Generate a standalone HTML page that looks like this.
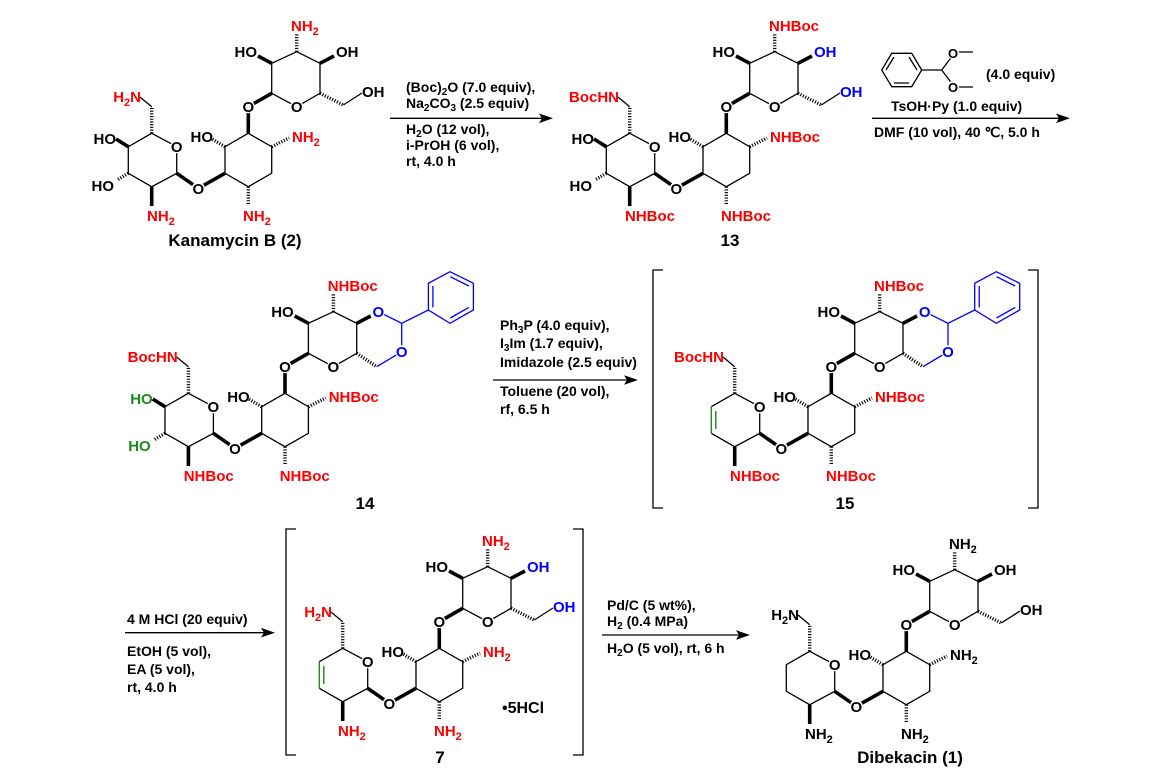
<!DOCTYPE html>
<html><head><meta charset="utf-8"><style>
html,body{margin:0;padding:0;background:#fff;}
svg{display:block;}
text{font-family:"Liberation Sans",Arial,sans-serif;font-weight:bold;font-size:15px;fill:#000;stroke:none;}
text.a{font-size:14px;}
text.cap{font-size:17px;}
.r{fill:#f00;} .bl{fill:#00f;} .g{fill:#1a8a1a;}
.s{font-size:11px;}
.k{fill:none;stroke:#000;stroke-width:1.3;}
.w{fill:none;stroke:#000;stroke-width:3.6;}
.h{fill:none;stroke:#000;stroke-width:3.4;stroke-dasharray:1.1 1.6;}
.bb{fill:none;stroke:#00f;stroke-width:1.3;}
.gg{fill:none;stroke:#2a8a2a;stroke-width:1.5;}
circle.c{fill:#fff;stroke:none;}
</style></head><body>
<svg width="1162" height="780" viewBox="0 0 1162 780" xmlns="http://www.w3.org/2000/svg">

<!-- ============ Kanamycin B ============ -->
<g>
<path class="k" d="M151.7,133.3L176.7,146.7L176.7,173.3L151.7,186.7L128.3,173.3L128.3,146.7Z M248.3,133.3L271.7,146.7L271.7,173.3L248.3,186.7L225,173.3L225,146.7Z M271.7,93.3L296.7,106.7L320,93.3L320,63.3L296.7,51.7L271.7,63.3Z M151.7,106.7L140,97 M343.3,105L362,93"/>
<path class="w" d="M176.7,173.3L198.3,188.3L225,173.3 M248.3,133.3L248.3,106.7L271.7,93.3 M151.7,186.7L151.7,206 M271.7,63.3L258,56 M320,63.3L334,56 M128.3,146.7L116,139"/>
<path class="h" d="M151.7,133.3L151.7,106.7 M225,146.7L212,139 M271.7,146.7L289,138 M248.3,186.7L248.3,205 M296.7,51.7L296.7,34 M320,93.3L343.3,105 M128.3,173.3L117,180"/>
<circle class="c" cx="176.7" cy="146.7" r="6.5"/><circle class="c" cx="198.3" cy="188.3" r="6.5"/><circle class="c" cx="248.3" cy="106.7" r="6.5"/><circle class="c" cx="296.7" cy="106.7" r="6.5"/>
<text class="r" x="141" y="102" text-anchor="end">H<tspan class="s" dy="4">2</tspan><tspan dy="-4">N</tspan></text>
<text x="116" y="144" text-anchor="end">HO</text>
<text x="114" y="191" text-anchor="end">HO</text>
<text class="r" x="147" y="221">NH<tspan class="s" dy="4">2</tspan></text>
<text x="176.7" y="152" text-anchor="middle">O</text>
<text x="198.3" y="194" text-anchor="middle">O</text>
<text x="213" y="142" text-anchor="end">HO</text>
<text class="r" x="292" y="142">NH<tspan class="s" dy="4">2</tspan></text>
<text class="r" x="243" y="221">NH<tspan class="s" dy="4">2</tspan></text>
<text x="248.3" y="112" text-anchor="middle">O</text>
<text x="296.7" y="112" text-anchor="middle">O</text>
<text x="257" y="57" text-anchor="end">HO</text>
<text class="r" x="291" y="31">NH<tspan class="s" dy="4">2</tspan></text>
<text x="336" y="57">OH</text>
<text x="362" y="97">OH</text>
</g>
<text class="cap" x="235" y="246" text-anchor="middle">Kanamycin B (2)</text>

<!-- arrow 1 -->
<path class="k" d="M390,118.3L545,118.3"/>
<polygon points="553,118.3 539,113.5 542,118.3 539,123.1"/>
<text class="a" x="406" y="92">(Boc)<tspan font-size="10" dy="3">2</tspan><tspan dy="-3">O (7.0 equiv),</tspan></text>
<text class="a" x="406" y="108">Na<tspan font-size="10" dy="3">2</tspan><tspan dy="-3">CO</tspan><tspan font-size="10" dy="3">3</tspan><tspan dy="-3"> (2.5 equiv)</tspan></text>
<text class="a" x="406" y="134">H<tspan font-size="10" dy="3">2</tspan><tspan dy="-3">O (12 vol),</tspan></text>
<text class="a" x="406" y="150">i-PrOH (6 vol),</text>
<text class="a" x="406" y="166">rt,  4.0 h</text>

<!-- ============ 13 ============ -->
<g transform="translate(478,0)">
<path class="k" d="M151.7,133.3L176.7,146.7L176.7,173.3L151.7,186.7L128.3,173.3L128.3,146.7Z M248.3,133.3L271.7,146.7L271.7,173.3L248.3,186.7L225,173.3L225,146.7Z M271.7,93.3L296.7,106.7L320,93.3L320,63.3L296.7,51.7L271.7,63.3Z M151.7,106.7L140,97 M343.3,105L362,93"/>
<path class="w" d="M176.7,173.3L198.3,188.3L225,173.3 M248.3,133.3L248.3,106.7L271.7,93.3 M151.7,186.7L151.7,206 M271.7,63.3L258,56 M320,63.3L334,56 M128.3,146.7L116,139"/>
<path class="h" d="M151.7,133.3L151.7,106.7 M225,146.7L212,139 M271.7,146.7L289,138 M248.3,186.7L248.3,205 M296.7,51.7L296.7,34 M320,93.3L343.3,105 M128.3,173.3L117,180"/>
<circle class="c" cx="176.7" cy="146.7" r="6.5"/><circle class="c" cx="198.3" cy="188.3" r="6.5"/><circle class="c" cx="248.3" cy="106.7" r="6.5"/><circle class="c" cx="296.7" cy="106.7" r="6.5"/>
<text class="r" x="141" y="102" text-anchor="end">BocHN</text>
<text x="116" y="144" text-anchor="end">HO</text>
<text x="114" y="191" text-anchor="end">HO</text>
<text class="r" x="147" y="221">NHBoc</text>
<text x="176.7" y="152" text-anchor="middle">O</text>
<text x="198.3" y="194" text-anchor="middle">O</text>
<text x="213" y="142" text-anchor="end">HO</text>
<text class="r" x="292" y="142">NHBoc</text>
<text class="r" x="243" y="221">NHBoc</text>
<text x="248.3" y="112" text-anchor="middle">O</text>
<text x="296.7" y="112" text-anchor="middle">O</text>
<text x="257" y="57" text-anchor="end">HO</text>
<text class="r" x="291" y="31">NHBoc</text>
<text class="bl" x="336" y="57">OH</text>
<text class="bl" x="362" y="97">OH</text>
</g>
<text class="cap" x="730" y="246" text-anchor="middle">13</text>

<!-- arrow 2 with reagent -->
<path class="k" d="M881.7,70L891.7,53.3L911.7,53.3L921.7,70L911.7,86.7L891.7,86.7Z M886,70L894,57 M909,57L917,70 M894,83L909,83 M921.7,70L941.7,70 M941.7,70L953,55 M941.7,70L953,85 M958,52L973,52 M958,87L973,87"/>
<circle class="c" cx="953" cy="53" r="6"/><circle class="c" cx="953" cy="87" r="6"/>
<text x="953" y="58" text-anchor="middle" style="font-size:13px">O</text>
<text x="953" y="92" text-anchor="middle" style="font-size:13px">O</text>
<text class="a" x="986" y="79">(4.0 equiv)</text>
<text class="a" x="891" y="111">TsOH·Py (1.0 equiv)</text>
<path class="k" d="M872,118.3L1062,118.3"/>
<polygon points="1070,118.3 1056,113.5 1059,118.3 1056,123.1"/>
<text class="a" x="874" y="137">DMF (10 vol), 40 ℃,  5.0 h</text>

<!-- ============ 14 ============ -->
<g transform="translate(36.7,260)">
<path class="k" d="M151.7,133.3L176.7,146.7L176.7,173.3L151.7,186.7L128.3,173.3L128.3,146.7Z M248.3,133.3L271.7,146.7L271.7,173.3L248.3,186.7L225,173.3L225,146.7Z M271.7,93.3L296.7,106.7L320,93.3L320,63.3L296.7,51.7L271.7,63.3Z M151.7,106.7L140,97"/>
<path class="w" d="M176.7,173.3L198.3,188.3L225,173.3 M248.3,133.3L248.3,106.7L271.7,93.3 M151.7,186.7L151.7,206 M271.7,63.3L258,56 M128.3,146.7L116,139"/>
<path class="h" d="M151.7,133.3L151.7,106.7 M225,146.7L212,139 M271.7,146.7L289,138 M248.3,186.7L248.3,205 M296.7,51.7L296.7,34 M320,93.3L340,106.7 M128.3,173.3L117,180"/>
<path class="bb" d="M340,106.7L365,91.7L365,63.3L341.7,51.7 M365,63.3L391.7,50 M391.7,50L391.7,23.3L413.3,11.7L436.7,23.3L436.7,50L413.3,63.3Z M413.5,16.7L432.2,26 M432.2,47.4L413.5,58 M396.2,47.4L396.2,26"/>
<path class="w" d="M320,63.3L334,56"/>
<circle class="c" cx="176.7" cy="146.7" r="6.5"/><circle class="c" cx="198.3" cy="188.3" r="6.5"/><circle class="c" cx="248.3" cy="106.7" r="6.5"/><circle class="c" cx="296.7" cy="106.7" r="6.5"/><circle class="c" cx="341.7" cy="51.7" r="6.5"/><circle class="c" cx="365" cy="91.7" r="6.5"/>
<text class="r" x="141" y="102" text-anchor="end">BocHN</text>
<text class="g" x="116" y="144" text-anchor="end">HO</text>
<text class="g" x="114" y="191" text-anchor="end">HO</text>
<text class="r" x="147" y="221">NHBoc</text>
<text x="176.7" y="152" text-anchor="middle">O</text>
<text x="198.3" y="194" text-anchor="middle">O</text>
<text x="213" y="142" text-anchor="end">HO</text>
<text class="r" x="292" y="142">NHBoc</text>
<text class="r" x="243" y="221">NHBoc</text>
<text x="248.3" y="112" text-anchor="middle">O</text>
<text x="296.7" y="112" text-anchor="middle">O</text>
<text x="257" y="57" text-anchor="end">HO</text>
<text class="r" x="291" y="31">NHBoc</text>
<text class="bl" x="341.7" y="57" text-anchor="middle">O</text>
<text class="bl" x="365" y="97" text-anchor="middle">O</text>
</g>
<text class="cap" x="365" y="509" text-anchor="middle">14</text>

<!-- arrow 3 -->
<text class="a" x="500" y="330">Ph<tspan font-size="10" dy="3">3</tspan><tspan dy="-3">P (4.0 equiv),</tspan></text>
<text class="a" x="500" y="348">I<tspan font-size="10" dy="3">3</tspan><tspan dy="-3">Im (1.7 equiv),</tspan></text>
<text class="a" x="500" y="367">Imidazole (2.5 equiv)</text>
<path class="k" d="M493,380L630,380"/>
<polygon points="638,380 624,375.2 627,380 624,384.8"/>
<text class="a" x="500" y="396">Toluene (20 vol),</text>
<text class="a" x="500" y="414">rf, 6.5 h</text>

<!-- bracket 15 -->
<path class="k" d="M663,270L653,270L653,508L663,508 M1028,270L1038,270L1038,508L1028,508"/>

<!-- ============ 15 ============ -->
<g transform="translate(583,260)">
<path class="k" d="M151.7,133.3L176.7,146.7L176.7,173.3L151.7,186.7L128.3,173.3 M128.3,146.7L151.7,133.3 M248.3,133.3L271.7,146.7L271.7,173.3L248.3,186.7L225,173.3L225,146.7Z M271.7,93.3L296.7,106.7L320,93.3L320,63.3L296.7,51.7L271.7,63.3Z M151.7,106.7L140,97"/>
<path class="gg" d="M128.3,146.7L128.3,173.3 M132.8,151L132.8,169"/>
<path class="w" d="M176.7,173.3L198.3,188.3L225,173.3 M248.3,133.3L248.3,106.7L271.7,93.3 M151.7,186.7L151.7,206 M271.7,63.3L258,56"/>
<path class="h" d="M151.7,133.3L151.7,106.7 M225,146.7L212,139 M271.7,146.7L289,138 M248.3,186.7L248.3,205 M296.7,51.7L296.7,34 M320,93.3L340,106.7"/>
<path class="bb" d="M340,106.7L365,91.7L365,63.3L341.7,51.7 M365,63.3L391.7,50 M391.7,50L391.7,23.3L413.3,11.7L436.7,23.3L436.7,50L413.3,63.3Z M413.5,16.7L432.2,26 M432.2,47.4L413.5,58 M396.2,47.4L396.2,26"/>
<path class="w" d="M320,63.3L334,56"/>
<circle class="c" cx="176.7" cy="146.7" r="6.5"/><circle class="c" cx="198.3" cy="188.3" r="6.5"/><circle class="c" cx="248.3" cy="106.7" r="6.5"/><circle class="c" cx="296.7" cy="106.7" r="6.5"/><circle class="c" cx="341.7" cy="51.7" r="6.5"/><circle class="c" cx="365" cy="91.7" r="6.5"/>
<text class="r" x="141" y="102" text-anchor="end">BocHN</text>
<text class="r" x="147" y="221">NHBoc</text>
<text x="176.7" y="152" text-anchor="middle">O</text>
<text x="198.3" y="194" text-anchor="middle">O</text>
<text x="213" y="142" text-anchor="end">HO</text>
<text class="r" x="292" y="142">NHBoc</text>
<text class="r" x="243" y="221">NHBoc</text>
<text x="248.3" y="112" text-anchor="middle">O</text>
<text x="296.7" y="112" text-anchor="middle">O</text>
<text x="257" y="57" text-anchor="end">HO</text>
<text class="r" x="291" y="31">NHBoc</text>
<text class="bl" x="341.7" y="57" text-anchor="middle">O</text>
<text class="bl" x="365" y="97" text-anchor="middle">O</text>
</g>
<text class="cap" x="845" y="509" text-anchor="middle">15</text>

<!-- arrow 4 -->
<text class="a" x="127" y="624">4 M HCl (20 equiv)</text>
<path class="k" d="M125,632.7L267,632.7"/>
<polygon points="275,632.7 261,627.9 264,632.7 261,637.5"/>
<text class="a" x="127" y="656">EtOH (5 vol),</text>
<text class="a" x="127" y="674">EA (5 vol),</text>
<text class="a" x="127" y="692">rt, 4.0 h</text>

<!-- bracket 7 -->
<path class="k" d="M296,529L286,529L286,755L296,755 M573,529L583,529L583,755L573,755"/>

<!-- ============ 7 ============ -->
<g transform="translate(191,515)">
<path class="k" d="M151.7,133.3L176.7,146.7L176.7,173.3L151.7,186.7L128.3,173.3 M128.3,146.7L151.7,133.3 M248.3,133.3L271.7,146.7L271.7,173.3L248.3,186.7L225,173.3L225,146.7Z M271.7,93.3L296.7,106.7L320,93.3L320,63.3L296.7,51.7L271.7,63.3Z M151.7,106.7L140,97 M343.3,105L362,93"/>
<path class="gg" d="M128.3,146.7L128.3,173.3 M132.8,151L132.8,169"/>
<path class="w" d="M176.7,173.3L198.3,188.3L225,173.3 M248.3,133.3L248.3,106.7L271.7,93.3 M151.7,186.7L151.7,206 M271.7,63.3L258,56 M320,63.3L334,56"/>
<path class="h" d="M151.7,133.3L151.7,106.7 M225,146.7L212,139 M271.7,146.7L289,138 M248.3,186.7L248.3,205 M296.7,51.7L296.7,34 M320,93.3L343.3,105"/>
<circle class="c" cx="176.7" cy="146.7" r="6.5"/><circle class="c" cx="198.3" cy="188.3" r="6.5"/><circle class="c" cx="248.3" cy="106.7" r="6.5"/><circle class="c" cx="296.7" cy="106.7" r="6.5"/>
<text class="r" x="141" y="102" text-anchor="end">H<tspan class="s" dy="4">2</tspan><tspan dy="-4">N</tspan></text>
<text class="r" x="147" y="221">NH<tspan class="s" dy="4">2</tspan></text>
<text x="176.7" y="152" text-anchor="middle">O</text>
<text x="198.3" y="194" text-anchor="middle">O</text>
<text x="213" y="142" text-anchor="end">HO</text>
<text class="r" x="292" y="142">NH<tspan class="s" dy="4">2</tspan></text>
<text class="r" x="243" y="221">NH<tspan class="s" dy="4">2</tspan></text>
<text x="248.3" y="112" text-anchor="middle">O</text>
<text x="296.7" y="112" text-anchor="middle">O</text>
<text x="257" y="57" text-anchor="end">HO</text>
<text class="r" x="291" y="31">NH<tspan class="s" dy="4">2</tspan></text>
<text class="bl" x="336" y="57">OH</text>
<text class="bl" x="362" y="97">OH</text>
</g>
<text x="502" y="713" style="font-size:16px">•5HCl</text>
<text class="cap" x="440" y="763" text-anchor="middle">7</text>

<!-- arrow 5 -->
<text class="a" x="607" y="610">Pd/C (5 wt%),</text>
<text class="a" x="607" y="626">H<tspan font-size="10" dy="3">2</tspan><tspan dy="-3"> (0.4 MPa)</tspan></text>
<path class="k" d="M602,635L742,635"/>
<polygon points="750,635 736,630.2 739,635 736,639.8"/>
<text class="a" x="607" y="653">H<tspan font-size="10" dy="3">2</tspan><tspan dy="-3">O (5 vol), rt, 6 h</tspan></text>

<!-- ============ Dibekacin ============ -->
<g transform="translate(658,518)">
<path class="k" d="M151.7,133.3L176.7,146.7L176.7,173.3L151.7,186.7L128.3,173.3L128.3,146.7Z M248.3,133.3L271.7,146.7L271.7,173.3L248.3,186.7L225,173.3L225,146.7Z M271.7,93.3L296.7,106.7L320,93.3L320,63.3L296.7,51.7L271.7,63.3Z M151.7,106.7L140,97 M343.3,105L362,93"/>
<path class="w" d="M176.7,173.3L198.3,188.3L225,173.3 M248.3,133.3L248.3,106.7L271.7,93.3 M151.7,186.7L151.7,206 M271.7,63.3L258,56 M320,63.3L334,56"/>
<path class="h" d="M151.7,133.3L151.7,106.7 M225,146.7L212,139 M271.7,146.7L289,138 M248.3,186.7L248.3,205 M296.7,51.7L296.7,34 M320,93.3L343.3,105"/>
<circle class="c" cx="176.7" cy="146.7" r="6.5"/><circle class="c" cx="198.3" cy="188.3" r="6.5"/><circle class="c" cx="248.3" cy="106.7" r="6.5"/><circle class="c" cx="296.7" cy="106.7" r="6.5"/>
<text x="141" y="102" text-anchor="end">H<tspan class="s" dy="4">2</tspan><tspan dy="-4">N</tspan></text>
<text x="147" y="221">NH<tspan class="s" dy="4">2</tspan></text>
<text x="176.7" y="152" text-anchor="middle">O</text>
<text x="198.3" y="194" text-anchor="middle">O</text>
<text x="213" y="142" text-anchor="end">HO</text>
<text x="292" y="142">NH<tspan class="s" dy="4">2</tspan></text>
<text x="243" y="221">NH<tspan class="s" dy="4">2</tspan></text>
<text x="248.3" y="112" text-anchor="middle">O</text>
<text x="296.7" y="112" text-anchor="middle">O</text>
<text x="257" y="57" text-anchor="end">HO</text>
<text x="291" y="31">NH<tspan class="s" dy="4">2</tspan></text>
<text x="336" y="57">OH</text>
<text x="362" y="97">OH</text>
</g>
<text class="cap" x="910" y="763" text-anchor="middle">Dibekacin (1)</text>

</svg>
</body></html>
